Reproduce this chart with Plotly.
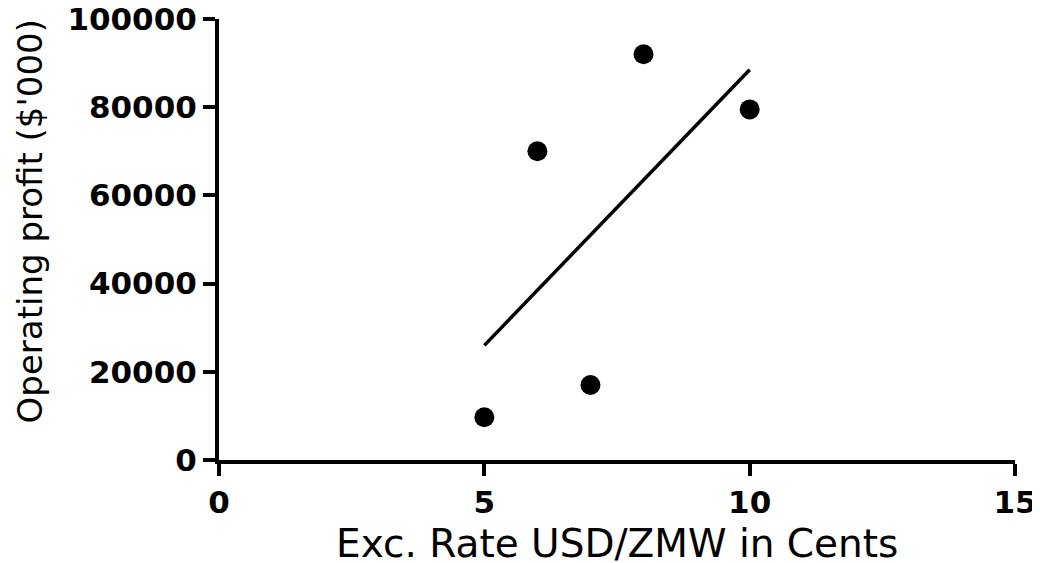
import plotly.graph_objects as go

# Data
exc_rate = [5, 6, 7, 8, 10]
operating_profit = [9700, 70000, 17000, 92000, 79500]
fit_x = [5, 10]
fit_y = [26000, 88500]

x_ticks = [0, 5, 10, 15]
y_ticks = [0, 20000, 40000, 60000, 80000, 100000]

fig = go.Figure()
fig.add_trace(go.Scatter(x=fit_x, y=fit_y, mode="lines",
                         line=dict(color="black", width=3.5), showlegend=False))
fig.add_trace(go.Scatter(x=exc_rate, y=operating_profit, mode="markers",
                         marker=dict(color="black", size=20), showlegend=False,
                         cliponaxis=False))

tickfont = dict(family="DejaVu Sans", size=31, color="black", weight="bold")

# page has an 8px body margin, so the figure is sized/offset to compensate
fig.update_layout(
    width=1032, height=555,
    margin=dict(l=211, r=25, t=11, b=103, autoexpand=False),
    paper_bgcolor="white", plot_bgcolor="white",
    xaxis=dict(range=[0, 15], tickvals=x_ticks, ticktext=[str(v) for v in x_ticks],
               showline=True, linewidth=4, linecolor="black", mirror=False,
               ticks="outside", ticklen=12, tickwidth=4, tickcolor="black",
               showgrid=False, zeroline=False, tickfont=tickfont, automargin=False,
               ticklabeloverflow="allow"),
    yaxis=dict(range=[0, 100000], tickvals=y_ticks, ticktext=[str(v) for v in y_ticks],
               showline=True, linewidth=4, linecolor="black",
               ticks="outside", ticklen=12, tickwidth=4, tickcolor="black",
               showgrid=False, zeroline=False, tickfont=tickfont, automargin=False,
               ticklabeloverflow="allow"),
    annotations=[
        dict(text="Exc. Rate USD/ZMW in Cents", xref="paper", yref="paper",
             x=0.5, y=-0.190, xanchor="center", yanchor="middle",
             showarrow=False, font=dict(family="DejaVu Sans", size=39, color="black")),
        dict(text="Operating profit ($'000)", xref="paper", yref="paper",
             x=-0.238, y=0.540, xanchor="center", yanchor="middle", textangle=-90,
             showarrow=False, font=dict(family="DejaVu Sans", size=34, color="black")),
    ],
)

fig.write_html("out.html")
